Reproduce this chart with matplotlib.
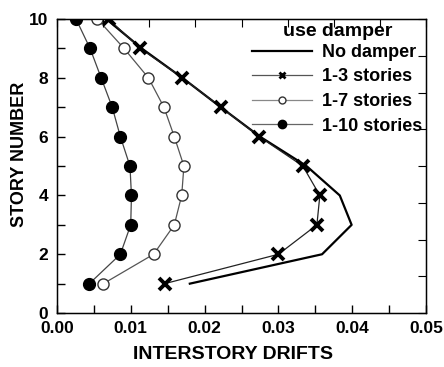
import matplotlib

matplotlib.use("Agg")
import matplotlib.pyplot as plt
from matplotlib.lines import Line2D
from matplotlib.ticker import MultipleLocator

plt.rcParams["font.family"] = ["Liberation Sans", "DejaVu Sans"]
plt.rcParams["font.weight"] = "bold"

# interstory drift per story for each damper layout
stories = [1, 2, 3, 4, 5, 6, 7, 8, 9, 10]
drift_none = [0.0180, 0.0359, 0.0399, 0.0383, 0.0338, 0.0275, 0.0222, 0.0170, 0.0115, 0.0067]
drift_1_3 = [0.0146, 0.0300, 0.0352, 0.0356, 0.0333, 0.0274, 0.0222, 0.0170, 0.0113, 0.0070]
drift_1_7 = [0.0063, 0.0131, 0.0159, 0.0169, 0.0172, 0.0159, 0.0145, 0.0124, 0.0091, 0.0055]
drift_1_10 = [0.0044, 0.0086, 0.0100, 0.0101, 0.0099, 0.0086, 0.0075, 0.0060, 0.0045, 0.0026]

fig = plt.figure(figsize=(4.44, 3.67), dpi=100)
ax = fig.add_axes([0.128, 0.147, 0.832, 0.801])

ax.plot(drift_none, stories, color="black", lw=1.6, zorder=3)
ax.plot(drift_1_3, stories, color="#222222", lw=0.9, marker="x",
        ms=8.5, mew=2.8, mec="black", zorder=4)
ax.plot(drift_1_7, stories, color="#555555", lw=0.9, marker="o",
        ms=8, mfc="white", mec="#333333", mew=1.0, zorder=4)
ax.plot(drift_1_10, stories, color="#444444", lw=0.9, marker="o",
        ms=8.5, mfc="black", mec="black", zorder=4)

ax.set_xlim(0, 0.05)
ax.set_ylim(0, 10)
ax.xaxis.set_major_locator(MultipleLocator(0.01))
ax.xaxis.set_minor_locator(MultipleLocator(0.005))
ax.yaxis.set_major_locator(MultipleLocator(2))
ax.yaxis.set_minor_locator(MultipleLocator(1))
ax.xaxis.set_major_formatter(lambda v, pos: f"{v:.2f}")
ax.tick_params(which="both", direction="in", length=6, width=1.0,
               top=False, right=False, labelsize=12.5)
ax.tick_params(axis="x", pad=6)
ax.tick_params(axis="y", pad=6)
for lab in ax.get_xticklabels() + ax.get_yticklabels():
    lab.set_fontweight("bold")
for sp in ax.spines.values():
    sp.set_linewidth(1.0)
    sp.set_color("#333333")

ax.set_xlabel("INTERSTORY DRIFTS", fontsize=14, fontweight="bold")
ax.set_ylabel("STORY NUMBER", fontsize=13, fontweight="bold")
ax.xaxis.set_label_coords(0.477, -0.112)
ax.yaxis.set_label_coords(-0.078, 0.54)

# unlabeled ticks on the top and right frame
axt = ax.twiny()
axt.set_xlim(0, 8)
axt.set_xticks(range(9))
axt.tick_params(direction="in", length=6, labeltop=False)
axr = ax.twinx()
axr.set_ylim(0, 8)
axr.set_yticks(range(9))
axr.tick_params(direction="in", length=6, labelright=False)

handles = [
    Line2D([], [], color="black", lw=1.6),
    Line2D([], [], color="#555555", lw=0.9, marker="x", ms=5, mew=2, mec="black"),
    Line2D([], [], color="#888888", lw=0.9, marker="o", ms=5, mfc="white", mec="#333333"),
    Line2D([], [], color="#666666", lw=0.9, marker="o", ms=6, mfc="black", mec="black"),
]
labels = ["No damper", "1-3 stories", "1-7 stories", "1-10 stories"]
leg = axr.legend(handles, labels, title="use damper", loc="upper right",
                 frameon=False, handlelength=3.3,
                 labelspacing=0.42, borderaxespad=0.1, borderpad=0.1,
                 handletextpad=0.6, prop={"weight": "bold", "size": 13})
leg.get_title().set_fontweight("bold")
leg.get_title().set_fontsize(14)
leg._legend_box.sep = 3

fig.savefig("out.png", dpi=100)
